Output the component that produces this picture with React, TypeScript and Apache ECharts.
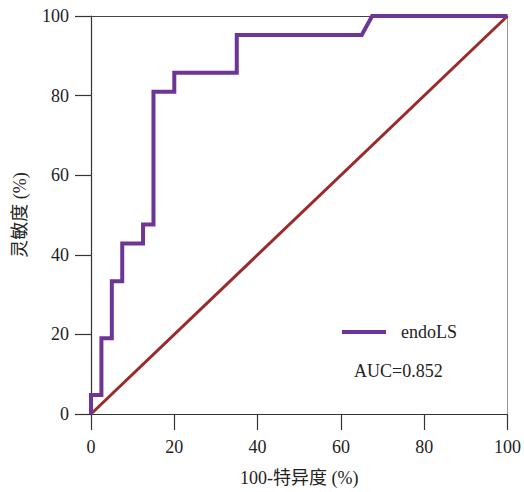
import React, { useEffect, useRef } from "react";
import * as echarts from "echarts";

const fpr = [0, 0, 2.5, 2.5, 5, 5, 7.5, 7.5, 12.5, 12.5, 15, 15, 20, 20, 35, 35, 65, 67.5, 100];
const tpr = [0, 4.76, 4.76, 19.05, 19.05, 33.33, 33.33, 42.86, 42.86, 47.62, 47.62, 80.95, 80.95, 85.71, 85.71, 95.24, 95.24, 100, 100];
const refX = [0, 100];
const refY = [0, 100];
const seriesName = "endoLS";
const aucText = "AUC=0.852";
const xName = "100-特异度 (%)";
const yName = "灵敏度 (%)";

const FONT = "'Liberation Serif', 'Times New Roman', 'Noto Sans CJK SC', serif";

export default function App() {
  const ref = useRef<HTMLDivElement>(null);
  useEffect(() => {
    if (!ref.current) return;
    const chart = echarts.init(ref.current, null, { renderer: "svg" });
    const rocData = fpr.map((x, i) => [x, tpr[i]]);
    const diagData = refX.map((x, i) => [x, refY[i]]);
    const labelStyle = { fontFamily: FONT, fontSize: 18, color: "#222" };
    chart.setOption({
      animation: false,
      backgroundColor: "#fff",
      grid: { left: 91, top: 16, right: 16, bottom: 75 },
      legend: {
        data: [seriesName],
        left: 342,
        top: 323,
        padding: 0,
        icon: "rect",
        itemWidth: 44,
        itemHeight: 4,
        textStyle: { ...labelStyle, padding: [0, 0, 0, 10] },
      },
      graphic: [
        {
          type: "text",
          left: 354,
          top: 362,
          style: { text: aucText, font: `18px ${FONT}`, fill: "#222" },
        },
      ],
      xAxis: [
        {
          type: "value",
          min: 0,
          max: 100,
          interval: 20,
          name: xName,
          nameLocation: "middle",
          nameGap: 55,
          nameTextStyle: labelStyle,
          axisLine: { show: true, lineStyle: { color: "#333", width: 1.2 } },
          axisTick: { show: true, inside: false, length: 16, lineStyle: { color: "#333", width: 1.2 } },
          axisLabel: { ...labelStyle, margin: 24 },
          splitLine: { show: false },
        },
        {
          type: "value",
          position: "top",
          min: 0,
          max: 100,
          axisLine: { show: true, onZero: false, lineStyle: { color: "#444", width: 1 } },
          axisTick: { show: false },
          axisLabel: { show: false },
          splitLine: { show: false },
        },
      ],
      yAxis: [
        {
          type: "value",
          min: 0,
          max: 100,
          interval: 20,
          name: yName,
          nameLocation: "middle",
          nameGap: 62,
          nameTextStyle: labelStyle,
          axisLine: { show: true, lineStyle: { color: "#333", width: 1.2 } },
          axisTick: { show: true, inside: false, length: 16, lineStyle: { color: "#333", width: 1.2 } },
          axisLabel: { ...labelStyle, margin: 22 },
          splitLine: { show: false },
        },
        {
          type: "value",
          position: "right",
          min: 0,
          max: 100,
          axisLine: { show: true, onZero: false, lineStyle: { color: "#999", width: 1 } },
          axisTick: { show: false },
          axisLabel: { show: false },
          splitLine: { show: false },
        },
      ],
      series: [
        {
          name: "reference",
          type: "line",
          data: diagData,
          showSymbol: false,
          lineStyle: { color: "#9b2a2a", width: 3 },
          z: 2,
        },
        {
          name: seriesName,
          type: "line",
          data: rocData,
          showSymbol: false,
          color: "#6f3596",
          lineStyle: { color: "#6f3596", width: 4, join: "miter" },
          z: 3,
        },
      ],
    });
    return () => chart.dispose();
  }, []);
  return (
    <div
      ref={ref}
      style={{ position: "fixed", left: 0, top: 0, width: 524, height: 492 }}
    />
  );
}
